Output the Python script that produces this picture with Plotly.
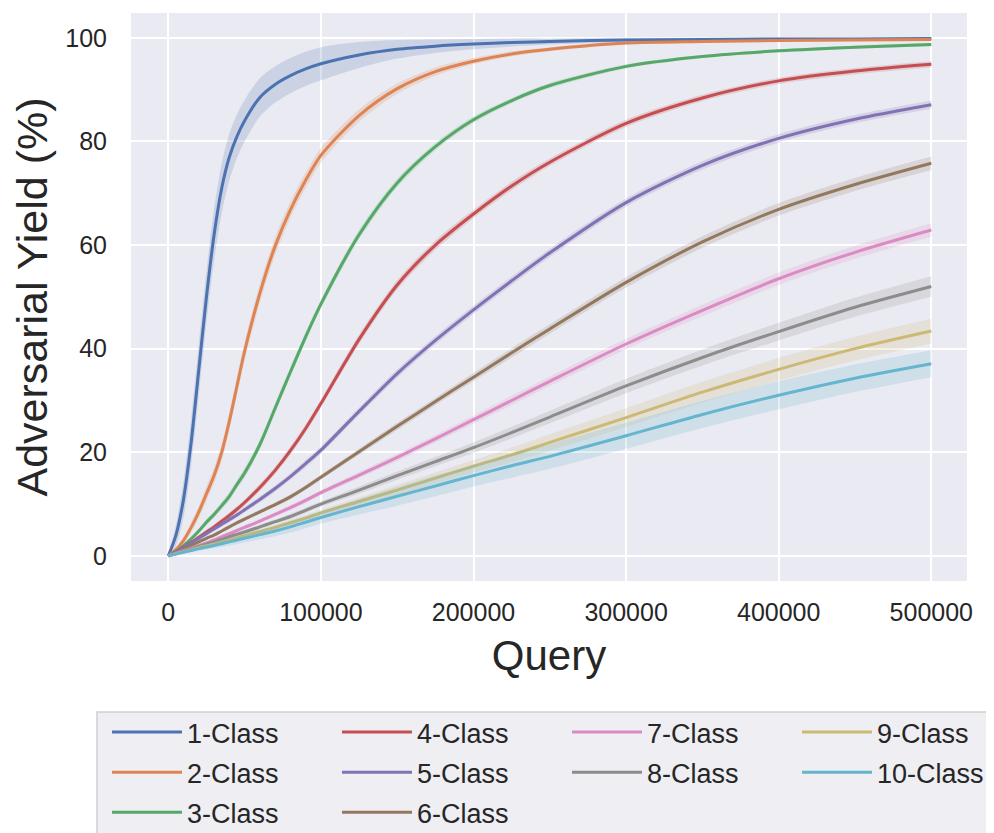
import plotly.graph_objects as go

QUERY = [0, 5000, 10000, 15000, 20000, 25000, 30000, 35000, 40000, 45000, 50000,
         60000, 70000, 80000, 90000, 100000, 125000, 150000, 175000, 200000,
         225000, 250000, 300000, 350000, 400000, 450000, 500000]

LABELS = ["1-Class", "2-Class", "3-Class", "4-Class", "5-Class",
          "6-Class", "7-Class", "8-Class", "9-Class", "10-Class"]

COLORS = ["#4C72B0", "#DD8452", "#55A868", "#C44E52", "#8172B3",
          "#937860", "#DA8BC3", "#8C8C8C", "#CCB974", "#64B5CD"]

# mean adversarial yield (%)
Y1 = [0, 4, 11, 22, 36, 50, 62, 71, 77, 81, 84, 88.5, 91, 92.7, 94, 95,
      96.7, 97.8, 98.4, 98.8, 99.1, 99.3, 99.6, 99.7, 99.8, 99.8, 99.9]
Y2 = [0, 1.2, 3, 5.5, 8.5, 12, 15.5, 20, 26, 32.8, 39.5, 50.7, 59.8, 66.8, 72.5, 77.3,
      85, 90.2, 93.5, 95.5, 96.9, 97.8, 99.0, 99.3, 99.5, 99.6, 99.7]
Y3 = [0, 0.8, 2, 3.3, 4.8, 6.5, 8, 9.7, 11.5, 13.8, 16, 21.5, 28.5, 35.5, 42.3, 48.6,
      62, 72, 79, 84.2, 87.9, 90.8, 94.5, 96.4, 97.5, 98.2, 98.7]
Y4 = [0, 0.8, 1.7, 2.6, 3.6, 4.6, 5.6, 6.7, 7.8, 9, 10.3, 13.2, 16.5, 20.3, 24.6, 29.4,
      41.8, 52.3, 60, 66, 71.4, 76, 83.5, 88.4, 91.7, 93.6, 94.9]
Y5 = [0, 0.8, 1.6, 2.5, 3.4, 4.3, 5.2, 6.1, 7, 7.9, 8.9, 10.9, 13.0, 15.3, 17.8, 20.4,
      27.9, 35.2, 41.6, 47.5, 53.1, 58.5, 68.2, 75.4, 80.6, 84.3, 87.1]
Y6 = [0, 0.6, 1.3, 2, 2.7, 3.4, 4.0, 4.8, 5.6, 6.4, 7.1, 8.5, 9.9, 11.4, 13.2, 15.2,
      20.1, 25, 29.8, 34.5, 39.2, 43.8, 52.8, 60.6, 66.9, 71.7, 75.8]
Y7 = [0, 0.5, 1.0, 1.5, 2.0, 2.5, 3.1, 3.7, 4.3, 4.9, 5.5, 6.7, 8.0, 9.3, 10.7, 12.2,
      15.6, 19, 22.6, 26.3, 30, 33.7, 40.9, 47.4, 53.5, 58.6, 62.9]
Y8 = [0, 0.45, 0.9, 1.35, 1.8, 2.25, 2.7, 3.2, 3.7, 4.15, 4.6, 5.6, 6.6, 7.6, 8.8, 10,
      12.7, 15.5, 18.2, 20.9, 23.8, 26.8, 32.8, 38.3, 43.3, 48, 52]
Y9 = [0, 0.4, 0.8, 1.2, 1.6, 1.95, 2.3, 2.7, 3.1, 3.5, 3.9, 4.7, 5.5, 6.4, 7.3, 8.3,
      10.5, 12.7, 15.0, 17.3, 19.5, 21.9, 26.7, 31.6, 36, 40, 43.4]
Y10 = [0, 0.35, 0.7, 1.05, 1.4, 1.7, 2.0, 2.35, 2.7, 3.05, 3.4, 4.1, 4.8, 5.6, 6.5, 7.4,
       9.5, 11.5, 13.5, 15.5, 17.4, 19.2, 23.2, 27.3, 31, 34.3, 37.1]

# half-width of the confidence band (%)
B1 = [0, 2, 3.5, 4.5, 5, 5, 5, 4.8, 4.5, 4.2, 4, 3.7, 3.5, 3.4, 3.3, 3.2,
      2.5, 1.8, 1.3, 1.0, 0.8, 0.6, 0.4, 0.3, 0.2, 0.15, 0.1]
B2 = [0, 0.4, 0.7, 1.0, 1.2, 1.4, 1.5, 1.6, 1.7, 1.8, 1.8, 1.8, 1.7, 1.6, 1.5, 1.4,
      1.2, 1.0, 0.8, 0.6, 0.5, 0.4, 0.3, 0.3, 0.2, 0.2, 0.2]
B3 = [0, 0.2, 0.3, 0.4, 0.5, 0.6, 0.6, 0.7, 0.8, 0.8, 0.9, 0.9, 0.9, 0.9, 0.9, 0.9,
      0.9, 0.8, 0.7, 0.6, 0.5, 0.5, 0.4, 0.3, 0.3, 0.3, 0.3]
B4 = [0, 0.2, 0.3, 0.4, 0.4, 0.5, 0.5, 0.5, 0.6, 0.6, 0.6, 0.7, 0.7, 0.8, 0.8, 0.8,
      0.9, 0.9, 0.9, 0.8, 0.8, 0.7, 0.7, 0.6, 0.6, 0.6, 0.6]
B5 = [0, 0.2, 0.3, 0.3, 0.4, 0.4, 0.4, 0.5, 0.5, 0.5, 0.5, 0.6, 0.6, 0.6, 0.7, 0.7,
      0.7, 0.8, 0.8, 0.8, 0.8, 0.8, 0.8, 0.8, 0.8, 0.8, 0.8]
B6 = [0, 0.1, 0.2, 0.2, 0.3, 0.3, 0.3, 0.3, 0.4, 0.4, 0.4, 0.4, 0.4, 0.5, 0.5, 0.5,
      0.6, 0.7, 0.7, 0.8, 0.9, 0.9, 1.0, 1.1, 1.2, 1.25, 1.3]
B7 = [0, 0.1, 0.2, 0.2, 0.3, 0.3, 0.3, 0.3, 0.4, 0.4, 0.4, 0.4, 0.4, 0.5, 0.5, 0.5,
      0.6, 0.7, 0.7, 0.8, 0.9, 0.9, 1.0, 1.1, 1.2, 1.25, 1.3]
B8 = [0, 0.1, 0.2, 0.2, 0.3, 0.3, 0.3, 0.3, 0.4, 0.4, 0.4, 0.4, 0.4, 0.5, 0.5, 0.5,
      0.7, 0.8, 0.9, 1.0, 1.1, 1.2, 1.4, 1.55, 1.7, 1.85, 2.0]
B9 = [0, 0.1, 0.2, 0.2, 0.3, 0.3, 0.3, 0.4, 0.4, 0.4, 0.5, 0.5, 0.5, 0.6, 0.6, 0.6,
      0.8, 1.0, 1.1, 1.2, 1.4, 1.6, 1.8, 2.0, 2.2, 2.3, 2.4]
B10 = [0, 0.2, 0.3, 0.4, 0.4, 0.5, 0.5, 0.6, 0.7, 0.7, 0.8, 0.9, 1.0, 1.1, 1.15, 1.2,
       1.5, 1.8, 2.0, 2.1, 2.3, 2.4, 2.5, 2.6, 2.7, 2.65, 2.6]

MEANS = [Y1, Y2, Y3, Y4, Y5, Y6, Y7, Y8, Y9, Y10]
BANDS = [B1, B2, B3, B4, B5, B6, B7, B8, B9, B10]
LEGEND_OF = ["legend", "legend", "legend", "legend2", "legend2", "legend2",
             "legend3", "legend3", "legend4", "legend4"]

FONT = "Liberation Sans, Arial, sans-serif"
TXT = "#262626"
SMOOTH = 0.8


def rgba(hex_color, a):
    h = hex_color.lstrip("#")
    r, g, b = int(h[0:2], 16), int(h[2:4], 16), int(h[4:6], 16)
    return f"rgba({r},{g},{b},{a})"


fig = go.Figure()
for label, color, ym, bw, leg in zip(LABELS, COLORS, MEANS, BANDS, LEGEND_OF):
    upper = [min(m + b, 100.0) for m, b in zip(ym, bw)]
    lower = [max(m - b, 0.0) for m, b in zip(ym, bw)]
    fig.add_trace(go.Scatter(x=QUERY, y=upper, mode="lines",
                             line=dict(width=0, color=color, shape="spline", smoothing=SMOOTH),
                             showlegend=False, hoverinfo="skip"))
    fig.add_trace(go.Scatter(x=QUERY, y=lower, mode="lines",
                             line=dict(width=0, color=color, shape="spline", smoothing=SMOOTH),
                             fill="tonexty", fillcolor=rgba(color, 0.2),
                             showlegend=False, hoverinfo="skip"))
    fig.add_trace(go.Scatter(x=QUERY, y=ym, mode="lines", name=label,
                             line=dict(color=color, width=3, shape="spline", smoothing=SMOOTH),
                             legend=leg, legendgroup=label))

# the page body has an 8px margin; the figure is sized to fit the window
W, H = 986, 825
L, R, T, B = 123, 27, 5, 252
pw, ph = W - L - R, H - T - B
OFF = 8


def px_to_paper_x(px):
    return (px - OFF - L) / pw


def px_to_paper_y(py):
    return (H - B - (py - OFF)) / ph


legend_common = dict(
    bgcolor="rgba(0,0,0,0)", borderwidth=0, orientation="v",
    font=dict(family=FONT, size=27, color=TXT),
    yanchor="top", xanchor="left", itemwidth=70, tracegroupgap=2,
    y=px_to_paper_y(708),
)

fig.update_layout(
    width=W, height=H,
    margin=dict(l=L, r=R, t=T, b=B, autoexpand=False),
    paper_bgcolor="white", plot_bgcolor="#EAEAF2",
    font=dict(family=FONT, color=TXT),
    xaxis=dict(range=[-24450, 523400], tickvals=[0, 100000, 200000, 300000, 400000, 500000],
               ticktext=["0", "100000", "200000", "300000", "400000", "500000"],
               showgrid=True, gridcolor="white", gridwidth=2, zeroline=False,
               showline=False, ticks="outside", ticklen=9, tickcolor="rgba(0,0,0,0)",
               tickfont=dict(size=25, color=TXT, family=FONT),
               title=dict(text="Query", font=dict(size=42, color=TXT, family=FONT), standoff=15)),
    yaxis=dict(range=[-4.85, 104.8], tickvals=[0, 20, 40, 60, 80, 100],
               showgrid=True, gridcolor="white", gridwidth=2, zeroline=False,
               showline=False, ticks="outside", ticklen=18, tickcolor="rgba(0,0,0,0)",
               tickfont=dict(size=25, color=TXT, family=FONT),
               title=dict(text="Adversarial Yield (%)", font=dict(size=43, color=TXT, family=FONT),
                          standoff=8)),
    legend=dict(legend_common, x=px_to_paper_x(107)),
    legend2=dict(legend_common, x=px_to_paper_x(337)),
    legend3=dict(legend_common, x=px_to_paper_x(567)),
    legend4=dict(legend_common, x=px_to_paper_x(797)),
    shapes=[dict(type="rect", xref="paper", yref="paper",
                 x0=px_to_paper_x(97), x1=px_to_paper_x(1010),
                 y0=px_to_paper_y(712), y1=px_to_paper_y(860),
                 line=dict(color="#D0D0D0", width=1.5), fillcolor="#EEEEF3", layer="below")],
)

fig.write_html("out.html")
